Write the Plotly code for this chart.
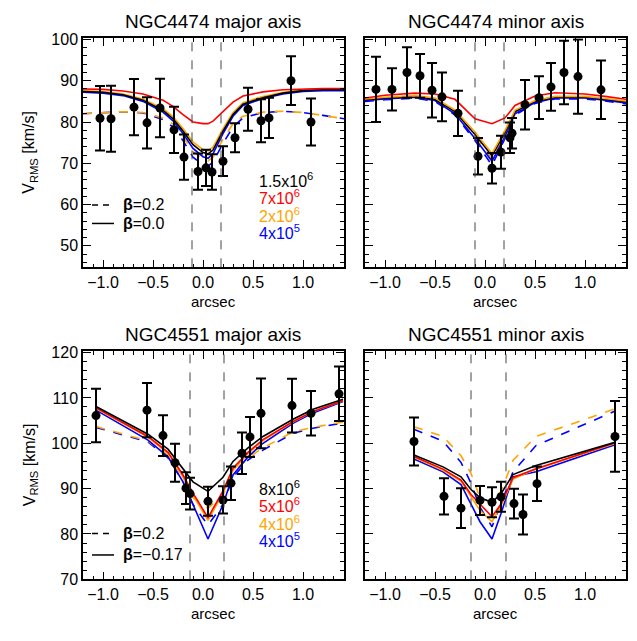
import plotly.graph_objects as go

W, H = 637, 641

# ---- NGC4474 major axis ----
maj1_x = [-1.03, -0.92, -0.69, -0.56, -0.43, -0.29, -0.19, -0.05, 0.03, 0.09, 0.20, 0.32, 0.45, 0.58, 0.66, 0.88, 1.08]
maj1_v = [80.9, 80.8, 83.6, 79.8, 83.4, 78.1, 71.5, 68.0, 68.9, 67.9, 70.5, 76.2, 83.1, 80.3, 81.0, 90.0, 80.0]
maj1_e = [7.8, 8.0, 6.8, 6.2, 7.1, 5.6, 5.5, 4.4, 4.4, 4.3, 3.6, 3.5, 5.2, 5.2, 4.9, 5.9, 5.7]
mod1_x = [-1.2, -1.0, -0.8, -0.6, -0.4, -0.3, -0.2, -0.1, 0.0, 0.05, 0.1, 0.2, 0.3, 0.4, 0.6, 0.8, 1.0, 1.2, 1.41]
mod1_red = [88.0, 87.9, 87.5, 86.8, 85.3, 83.8, 81.8, 80.0, 79.6, 79.6, 80.2, 82.4, 84.8, 86.3, 87.3, 87.8, 88.0, 88.1, 88.1]
mod1_black = [87.4, 87.2, 86.6, 85.3, 82.8, 80.8, 77.8, 74.5, 72.6, 72.3, 73.2, 77.8, 81.8, 84.3, 85.9, 87.0, 87.6, 87.8, 87.8]
mod1_orange = [87.6, 87.4, 86.8, 85.6, 83.2, 81.3, 78.4, 75.2, 73.3, 73.0, 73.9, 78.4, 82.3, 84.7, 86.2, 87.2, 87.8, 88.0, 88.0]
mod1_blue = [87.2, 87.0, 86.4, 85.0, 82.4, 80.3, 77.2, 73.6, 71.6, 71.2, 72.3, 77.2, 81.4, 84.0, 85.7, 86.8, 87.4, 87.6, 87.6]
mod1_orange_d = [82.0, 82.3, 82.5, 82.3, 81.0, 79.5, 76.5, 72.8, 71.0, 70.6, 71.5, 75.8, 79.6, 81.4, 82.4, 82.6, 82.3, 81.6, 80.8]
mod1_blue_d = [82.0, 82.3, 82.5, 82.2, 80.6, 78.8, 75.5, 71.5, 69.6, 69.3, 70.3, 74.8, 78.8, 81.0, 82.3, 82.6, 82.3, 81.6, 80.8]

# ---- NGC4474 minor axis ----
min1_x = [-1.09, -0.93, -0.78, -0.65, -0.53, -0.43, -0.27, -0.07, 0.07, 0.16, 0.25, 0.27, 0.40, 0.54, 0.66, 0.79, 0.93, 1.16]
min1_v = [87.9, 87.9, 92.0, 91.2, 87.7, 86.1, 82.1, 71.7, 68.8, 72.7, 76.2, 77.3, 84.2, 85.9, 88.5, 92.0, 91.0, 87.8]
min1_e = [7.9, 5.1, 6.1, 5.3, 6.6, 5.9, 5.5, 4.4, 3.7, 4.0, 3.7, 3.7, 6.0, 5.2, 5.8, 7.7, 9.0, 7.1]
mod2_x = [-1.2, -1.0, -0.7, -0.5, -0.3, -0.1, 0.07, 0.2, 0.3, 0.5, 0.7, 1.0, 1.2, 1.41]
mod2_red = [85.8, 86.5, 87.0, 86.8, 85.5, 80.8, 79.6, 81.0, 84.0, 86.3, 87.1, 86.8, 86.2, 85.5]
mod2_black = [85.4, 85.8, 86.2, 85.5, 82.5, 77.0, 71.8, 77.5, 82.5, 85.0, 86.0, 86.0, 85.5, 84.9]
mod2_orange = [85.6, 86.0, 86.4, 85.8, 82.9, 77.6, 72.4, 78.0, 82.9, 85.2, 86.2, 86.2, 85.7, 85.1]
mod2_blue = [85.2, 85.6, 86.0, 85.2, 82.0, 76.0, 70.5, 76.5, 82.0, 84.7, 85.8, 85.8, 85.3, 84.6]
mod2_orange_d = [85.3, 85.7, 86.1, 85.3, 82.3, 76.8, 71.0, 77.0, 82.3, 84.8, 85.9, 85.9, 85.4, 84.7]
mod2_blue_d = [85.0, 85.4, 85.8, 85.0, 81.7, 75.5, 69.5, 76.0, 81.7, 84.5, 85.6, 85.6, 85.1, 84.4]

# ---- NGC4551 major axis ----
maj2_x = [-1.07, -0.56, -0.40, -0.28, -0.17, -0.13, 0.05, 0.20, 0.28, 0.39, 0.47, 0.58, 0.89, 1.08, 1.36]
maj2_v = [106.1, 107.3, 101.7, 95.7, 90.1, 88.9, 87.2, 87.5, 91.2, 97.8, 101.4, 106.6, 108.3, 106.6, 110.9]
maj2_e = [5.9, 6.0, 4.5, 4.2, 3.5, 3.5, 3.2, 3.0, 3.7, 4.6, 4.4, 7.7, 5.9, 4.9, 6.0]
mod3_x = [-1.07, -0.55, -0.35, -0.2, -0.1, 0.05, 0.2, 0.3, 0.45, 0.6, 0.9, 1.1, 1.4]
mod3_black = [108.1, 102.0, 98.7, 94.5, 91.5, 89.4, 92.5, 96.0, 99.0, 101.5, 105.3, 107.5, 109.7]
mod3_red = [107.8, 101.5, 98.0, 93.0, 89.0, 83.6, 89.5, 94.5, 98.0, 100.8, 104.8, 107.0, 109.4]
mod3_orange = [107.7, 101.3, 97.8, 92.5, 88.5, 83.0, 89.0, 94.0, 97.7, 100.6, 104.7, 107.0, 109.4]
mod3_blue = [107.3, 100.7, 97.0, 91.5, 86.5, 78.9, 86.5, 93.0, 97.0, 100.0, 104.4, 106.7, 109.2]
mod3_orange_d = [103.7, 100.5, 97.3, 92.5, 88.0, 85.7, 88.5, 93.5, 96.8, 99.0, 102.5, 103.5, 104.7]
mod3_blue_d = [103.5, 100.3, 96.8, 91.5, 86.5, 82.0, 86.5, 92.5, 96.3, 98.5, 102.2, 103.3, 104.5]

# ---- NGC4551 minor axis ----
min2_x = [-0.71, -0.41, -0.24, -0.05, 0.07, 0.16, 0.29, 0.38, 0.52, 1.30]
min2_v = [100.4, 88.3, 85.7, 87.4, 87.0, 88.2, 86.7, 84.3, 91.1, 101.5]
min2_e = [5.3, 4.0, 4.4, 3.2, 3.3, 3.3, 3.3, 4.4, 3.8, 7.8]
mod4_x = [-0.71, -0.42, -0.24, -0.14, -0.05, 0.07, 0.16, 0.28, 0.51, 1.3]
mod4_black = [97.4, 94.8, 92.6, 89.8, 88.0, 87.0, 88.9, 93.1, 95.1, 100.2]
mod4_red = [97.1, 94.3, 91.9, 88.7, 86.6, 83.8, 86.6, 92.4, 94.4, 100.1]
mod4_orange = [96.9, 94.05, 91.6, 88.2, 85.2, 82.7, 86.2, 92.1, 94.3, 99.95]
mod4_blue = [96.55, 93.7, 90.9, 86.6, 82.7, 78.9, 84.5, 92.6, 93.7, 99.7]
mod4_orange_d = [103.65, 101.5, 97.25, 93.35, 88.0, 86.95, 89.4, 96.2, 101.5, 107.6]
mod4_blue_d = [103.1, 100.45, 95.8, 91.2, 85.9, 81.6, 86.6, 93.7, 99.5, 107.1]

RED, ORANGE, BLUE, BLACK = "#ff0000", "#ffa500", "#0000ff", "#000000"
FONT = "Liberation Sans"

panels = [
    # (axis suffix, data, models, dashed lines, title)
    ("", (maj1_x, maj1_v, maj1_e),
     [(mod1_x, mod1_blue_d, BLUE, "dash"), (mod1_x, mod1_orange_d, ORANGE, "dash"),
      (mod1_x, mod1_blue, BLUE, "solid"), (mod1_x, mod1_orange, ORANGE, "solid"),
      (mod1_x, mod1_black, BLACK, "solid"), (mod1_x, mod1_red, RED, "solid")],
     (-0.11, 0.18), "NGC4474 major axis"),
    ("2", (min1_x, min1_v, min1_e),
     [(mod2_x, mod2_blue_d, BLUE, "dash"), (mod2_x, mod2_orange_d, ORANGE, "dash"),
      (mod2_x, mod2_blue, BLUE, "solid"), (mod2_x, mod2_black, BLACK, "solid"),
      (mod2_x, mod2_orange, ORANGE, "solid"), (mod2_x, mod2_red, RED, "solid")],
     (-0.10, 0.19), "NGC4474 minor axis"),
    ("3", (maj2_x, maj2_v, maj2_e),
     [(mod3_x, mod3_blue_d, BLUE, "dash"), (mod3_x, mod3_orange_d, ORANGE, "dash"),
      (mod3_x, mod3_blue, BLUE, "solid"), (mod3_x, mod3_orange, ORANGE, "solid"),
      (mod3_x, mod3_red, RED, "solid"), (mod3_x, mod3_black, BLACK, "solid")],
     (-0.13, 0.21), "NGC4551 major axis"),
    ("4", (min2_x, min2_v, min2_e),
     [(mod4_x, mod4_blue_d, BLUE, "dash"), (mod4_x, mod4_orange_d, ORANGE, "dash"),
      (mod4_x, mod4_blue, BLUE, "solid"), (mod4_x, mod4_orange, ORANGE, "solid"),
      (mod4_x, mod4_red, RED, "solid"), (mod4_x, mod4_black, BLACK, "solid")],
     (-0.14, 0.21), "NGC4551 minor axis"),
]

# pixel boxes (left, right, top, bottom)
boxes = [(83, 344, 32, 267), (365, 626, 32, 267), (83, 344, 353, 587), (365, 626, 353, 587)]
yranges = [[44.8, 100.3], [44.8, 100.3], [70, 120.3], [70, 120.3]]


def px(x):
    return x / W


def py(y):
    return 1 - y / H


def label(text, x, y, size, color="black", xanchor="center", angle=0):
    return dict(text=text, x=px(x), y=py(y), xref="paper", yref="paper",
                xanchor=xanchor, yanchor="middle", textangle=angle, showarrow=False,
                font=dict(family=FONT, size=size, color=color))


fig = go.Figure()
shapes, annots = [], []

for i, (sfx, (dx, dv, de), models, vlines, title) in enumerate(panels):
    xa, ya = "x" + sfx, "y" + sfx
    for mx, mv, col, dash in models:
        fig.add_trace(go.Scatter(x=mx, y=mv, mode="lines", xaxis=xa, yaxis=ya,
                                 line=dict(color=col, width=1.6, dash=dash)))
    fig.add_trace(go.Scatter(x=dx, y=dv, mode="markers", xaxis=xa, yaxis=ya,
                             marker=dict(color="black", size=9),
                             error_y=dict(type="data", array=de, color="black", thickness=2, width=5)))
    for vx in vlines:
        shapes.append(dict(type="line", xref=xa, yref=ya + " domain", x0=vx, x1=vx, y0=0, y1=1,
                           line=dict(color="#444", width=1, dash="dash")))
    l, r, t, b = boxes[i]
    axis_common = dict(showline=True, linecolor="black", linewidth=1.5, mirror="ticks",
                       ticks="inside", ticklen=8, tickcolor="black", showgrid=False, zeroline=False,
                       tickfont=dict(family=FONT, size=16, color="black"))
    fig.update_layout(**{
        "xaxis" + sfx: dict(domain=[px(l), px(r)], range=[-1.2, 1.41], dtick=0.5, tick0=0,
                            tickformat=".1f", anchor=ya,
                            minor=dict(ticks="inside", ticklen=4, dtick=0.1, tickcolor="black"),
                            **axis_common),
        "yaxis" + sfx: dict(domain=[py(b), py(t)], range=yranges[i], dtick=10, anchor=xa,
                            showticklabels=(i % 2 == 0),
                            minor=dict(ticks="inside", ticklen=4, dtick=2, tickcolor="black"),
                            **axis_common),
    })
    annots.append(label(title, (l + r) / 2, t - 17, 19))
    annots.append(label("arcsec", (l + r) / 2, b + 35, 15))
    if i % 2 == 0:
        annots.append(label("V<sub>RMS</sub> [km/s]", 30, (t + b) / 2, 16, angle=-90))

# legends
mass_labels = [
    (["1.5x10<sup>6</sup>", "7x10<sup>6</sup>", "2x10<sup>6</sup>", "4x10<sup>5</sup>"], [177, 195, 213, 231]),
    (["8x10<sup>6</sup>", "5x10<sup>6</sup>", "4x10<sup>6</sup>", "4x10<sup>5</sup>"], [493, 511, 529, 547]),
]
beta_labels = [(["0.2", "0.0"], [203, 222]), (["0.2", "\u22120.17"], [540, 562])]
for (labs, ys), (blabs, bys) in zip(mass_labels, beta_labels):
    for lab, yy, col in zip(labs, ys, [BLACK, RED, ORANGE, BLUE]):
        annots.append(label(lab, 257, yy, 16, color=col, xanchor="left"))
    for lab, yy, dash in zip(blabs, bys, ["6px,5px", "solid"]):
        shapes.append(dict(type="line", xref="paper", yref="paper", x0=px(92), x1=px(114),
                           y0=py(yy), y1=py(yy), line=dict(color="black", width=1.5, dash=dash)))
        annots.append(label("<b>\u03b2</b>=" + lab, 121, yy, 16, xanchor="left"))

fig.update_layout(width=W, height=H, margin=dict(l=0, r=0, t=0, b=0),
                  paper_bgcolor="white", plot_bgcolor="white", showlegend=False,
                  shapes=shapes, annotations=annots)

fig.write_html("out.html", config={"displayModeBar": False},
               post_script="document.body.style.margin='0';document.body.style.padding='0';")
